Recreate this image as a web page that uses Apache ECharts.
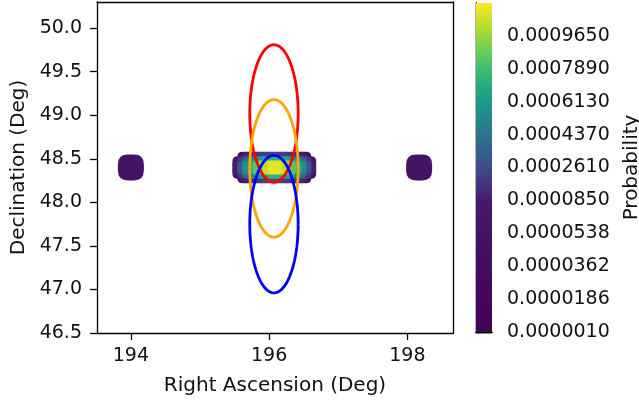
<!DOCTYPE html>
<html><head><meta charset="utf-8">
<script src="https://cdn.jsdelivr.net/npm/echarts@6/dist/echarts.min.js"></script>
<style>html,body{margin:0;padding:0;background:#fff}#c{width:639px;height:402px}</style>
</head><body><div id="c"></div>
<script>
// ---- data ----
const raCols = [195.57, 195.64, 195.71, 195.79, 195.86, 195.93, 196.00, 196.08, 196.15, 196.22, 196.29, 196.37, 196.44, 196.51, 196.58];
const decRows = [48.50, 48.45, 48.40, 48.35, 48.30];
const probGrid = [
  [null,     0.000050, 0.000100, 0.000140, 0.000170, 0.000190, 0.000210, 0.000230, 0.000210, 0.000190, 0.000170, 0.000140, 0.000100, 0.000050, null    ],
  [0.000060, 0.000190, 0.000350, 0.000460, 0.000550, 0.000620, 0.000680, 0.000730, 0.000680, 0.000620, 0.000550, 0.000460, 0.000350, 0.000190, 0.000060],
  [0.000100, 0.000300, 0.000550, 0.000700, 0.000830, 0.000940, 0.001030, 0.001100, 0.001030, 0.000940, 0.000830, 0.000700, 0.000550, 0.000300, 0.000100],
  [0.000060, 0.000190, 0.000350, 0.000460, 0.000550, 0.000620, 0.000680, 0.000730, 0.000680, 0.000620, 0.000550, 0.000460, 0.000350, 0.000190, 0.000060],
  [null,     0.000050, 0.000100, 0.000140, 0.000170, 0.000190, 0.000210, 0.000230, 0.000210, 0.000190, 0.000170, 0.000140, 0.000100, 0.000050, null    ]
];
const sideRA   = [194.00, 198.17];
const sideDec  = [48.40, 48.40];
const sideProb = [0.000058, 0.000055];

const ellRA      = [196.07, 196.07, 196.07];
const ellDec     = [49.02, 48.39, 47.75];
const ellSemiRA  = [0.35, 0.35, 0.35];
const ellSemiDec = [0.79, 0.79, 0.79];
const ellColors  = ['#ff0000', '#ffa500', '#0000ff'];

const xTicks = [194, 196, 198];
const yTicks = [46.5, 47.0, 47.5, 48.0, 48.5, 49.0, 49.5, 50.0];
const cbBounds = [0.0000010, 0.0000186, 0.0000362, 0.0000538, 0.0000850, 0.0002610, 0.0004370, 0.0006130, 0.0007890, 0.0009650, 0.0011410];
const cbLabels = ['0.0000010', '0.0000186', '0.0000362', '0.0000538', '0.0000850', '0.0002610', '0.0004370', '0.0006130', '0.0007890', '0.0009650'];

const viridis = ['#440154', '#482475', '#414487', '#355f8d', '#2a788e', '#21918c', '#22a884', '#44bf70', '#7ad151', '#bddf26', '#fde725'];

// ---- build series data ----
const points = [];
decRows.forEach((d, r) => raCols.forEach((ra, c) => {
  if (probGrid[r][c] != null) points.push([ra, d, probGrid[r][c]]);
}));
points.sort((a, b) => a[2] - b[2]);
const sidePoints = sideRA.map((ra, i) => [ra, sideDec[i], sideProb[i]]);

function ellipsePts(i) {
  const pts = [];
  const n = 180;
  for (let k = 0; k <= n; k++) {
    const t = 2 * Math.PI * k / n;
    pts.push([ellRA[i] + ellSemiRA[i] * Math.cos(t), ellDec[i] + ellSemiDec[i] * Math.sin(t)]);
  }
  return pts;
}

// colour bar gradient (uniform spacing between boundaries, linear colour in value)
const vMin = cbBounds[0], vMax = cbBounds[cbBounds.length - 1];
const nSeg = cbBounds.length - 1;
const cbStops = [];
const NS = 300;
for (let s = 0; s <= NS; s++) {
  const pos = s / NS * nSeg;
  const i = Math.min(Math.floor(pos), nSeg - 1);
  const f = pos - i;
  const v = cbBounds[i] + (cbBounds[i + 1] - cbBounds[i]) * f;
  cbStops.push({ offset: s / NS, color: echarts.color.lerp((v - vMin) / (vMax - vMin), viridis) });
}

const roundSq = 'path://M38,0 L62,0 Q100,0 100,38 L100,62 Q100,100 62,100 L38,100 Q0,100 0,62 L0,38 Q0,0 38,0 Z';

const TXT = '#111';
const FONT = 'DejaVu Sans';
const FS = 19;
const FSN = 20;
const lineOnly = { show: true, lineStyle: { color: '#000', width: 1.3 } };

const chart = echarts.init(document.getElementById('c'), null, { renderer: 'canvas' });
chart.setOption({
  animation: false,
  backgroundColor: '#fff',
  textStyle: { fontFamily: FONT, color: TXT },
  grid: [
    { left: 97, top: 2, width: 356, height: 331, containLabel: false, outerBoundsMode: 'none' },
    { left: 476, top: 3, width: 16, height: 329, containLabel: false, outerBoundsMode: 'none' }
  ],
  visualMap: {
    type: 'continuous', show: false, dimension: 2, seriesIndex: [0, 1],
    min: vMin, max: vMax,
    inRange: { color: viridis }
  },
  xAxis: [
    { gridIndex: 0, type: 'value', min: 193.51, max: 198.66, position: 'bottom',
      name: 'Right Ascension (Deg)', nameLocation: 'middle', nameGap: 43,
      nameTextStyle: { fontSize: FSN, color: TXT, fontFamily: FONT },
      axisLine: lineOnly, splitLine: { show: false },
      axisTick: { show: true, length: 7, customValues: xTicks, lineStyle: { color: '#000', width: 1.3 } },
      axisLabel: { show: true, customValues: xTicks, fontSize: FS, color: TXT, margin: 14, fontFamily: FONT } },
    { gridIndex: 0, type: 'value', min: 193.51, max: 198.66, position: 'top',
      axisLine: lineOnly, splitLine: { show: false }, axisTick: { show: false }, axisLabel: { show: false } },
    { gridIndex: 1, type: 'value', min: 0, max: 1, position: 'bottom',
      axisLine: lineOnly, splitLine: { show: false }, axisTick: { show: false }, axisLabel: { show: false } },
    { gridIndex: 1, type: 'value', min: 0, max: 1, position: 'top',
      axisLine: lineOnly, splitLine: { show: false }, axisTick: { show: false }, axisLabel: { show: false } }
  ],
  yAxis: [
    { gridIndex: 0, type: 'value', min: 46.5, max: 50.3, position: 'left',
      name: 'Declination (Deg)', nameLocation: 'middle', nameGap: 60, nameRotate: 90,
      nameTextStyle: { fontSize: FSN, color: TXT, fontFamily: FONT },
      axisLine: lineOnly, splitLine: { show: false },
      axisTick: { show: true, length: 7, customValues: yTicks, lineStyle: { color: '#000', width: 1.3 } },
      axisLabel: { show: true, customValues: yTicks, fontSize: FS, color: TXT, margin: 15, fontFamily: FONT,
        formatter: v => Number(v).toFixed(1) } },
    { gridIndex: 0, type: 'value', min: 46.5, max: 50.3, position: 'right',
      axisLine: lineOnly, splitLine: { show: false }, axisTick: { show: false }, axisLabel: { show: false } },
    { gridIndex: 1, type: 'value', min: 0, max: 10, position: 'right',
      name: 'Probability', nameLocation: 'middle', nameGap: 130, nameRotate: 90,
      nameTextStyle: { fontSize: FSN, color: TXT, fontFamily: FONT },
      axisLine: lineOnly, splitLine: { show: false },
      axisTick: { show: true, length: 7, customValues: cbLabels.map((s, i) => i), lineStyle: { color: '#000', width: 1.3 } },
      axisLabel: { show: true, customValues: cbLabels.map((s, i) => i), fontSize: FS, color: TXT, margin: 15, fontFamily: FONT,
        formatter: v => cbLabels[Math.round(v)] } },
    { gridIndex: 1, type: 'value', min: 0, max: 10, position: 'left',
      axisLine: lineOnly, splitLine: { show: false }, axisTick: { show: false }, axisLabel: { show: false } }
  ],
  series: [
    { type: 'scatter', xAxisIndex: 0, yAxisIndex: 0, data: points, symbol: roundSq, symbolSize: 14,
      itemStyle: { opacity: 1 }, z: 2, emphasis: { disabled: true } },
    { type: 'scatter', xAxisIndex: 0, yAxisIndex: 0, data: sidePoints, symbol: roundSq, symbolSize: 26,
      itemStyle: { opacity: 1 }, z: 2, emphasis: { disabled: true } },
    { type: 'custom', xAxisIndex: 2, yAxisIndex: 2, data: [[0, 10]], z: 1, clip: false,
      renderItem: function (params, api) {
        const p0 = api.coord([0, 0]);
        const p1 = api.coord([1, api.value(1)]);
        return { type: 'rect',
          shape: { x: p0[0], y: p1[1], width: p1[0] - p0[0], height: p0[1] - p1[1] },
          style: { fill: new echarts.graphic.LinearGradient(0, 1, 0, 0, cbStops) } };
      } },
    ...ellColors.map((col, i) => ({
      type: 'line', xAxisIndex: 0, yAxisIndex: 0, data: ellipsePts(i), symbol: 'none',
      smooth: false, z: 3 + i, lineStyle: { color: col, width: 2.8 }, emphasis: { disabled: true }
    }))
  ]
});
</script>
</body></html>
